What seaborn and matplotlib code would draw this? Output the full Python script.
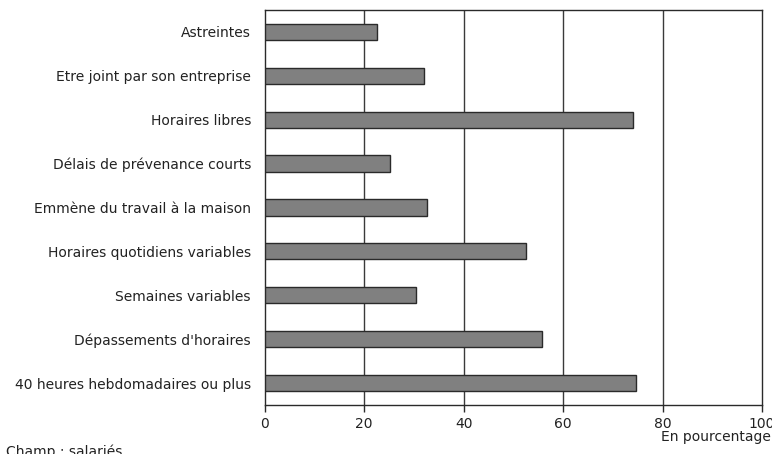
import matplotlib
matplotlib.use("Agg")
import matplotlib.pyplot as plt
import seaborn as sns
import numpy as np
import pandas as pd

categories = [
    "Astreintes",
    "Etre joint par son entreprise",
    "Horaires libres",
    "Délais de prévenance courts",
    "Emmène du travail à la maison",
    "Horaires quotidiens variables",
    "Semaines variables",
    "Dépassements d'horaires",
    "40 heures hebdomadaires ou plus",
]
values = [22.5, 32.1, 74.0, 25.2, 32.6, 52.5, 30.5, 55.7, 74.6]
x_ticks = [0, 20, 40, 60, 80, 100]

sns.set_theme(style="white")
plt.rcParams["font.family"] = ["DejaVu Sans"]

df = pd.DataFrame({"categorie": categories, "valeur": values})

fig = plt.figure(figsize=(7.72, 4.54), dpi=100)
ax = fig.add_axes([0.343, 0.108, 0.644, 0.870])

sns.barplot(data=df, x="valeur", y="categorie", orient="h", color="#808080",
            edgecolor="#2a2a2a", linewidth=1.0, width=0.37, saturation=1,
            ax=ax, zorder=3)

ax.set_xlim(0, 100)
ax.set_ylim(len(categories) - 0.5, -0.5)
ax.set_xticks(x_ticks)
ax.set_xticklabels([str(t) for t in x_ticks], fontsize=10, color="#222222")
ax.set_xlabel("")
ax.set_ylabel("")

# Vertical grid lines at each x tick
for t in x_ticks[1:-1]:
    ax.axvline(t, color="#3a3a3a", linewidth=1.0, zorder=1)

# Category labels centred, boundary ticks between categories
ax.set_yticks(np.arange(len(categories)))
ax.set_yticklabels(categories, fontsize=10, color="#222222")
ax.tick_params(axis="y", which="major", length=0, pad=10)
ax.set_yticks(np.arange(-0.5, len(categories)), minor=True)
ax.tick_params(axis="y", which="minor", length=5, width=1.0, color="#2a2a2a", direction="out")
ax.tick_params(axis="x", which="major", length=5, width=1.0, color="#2a2a2a",
               direction="out", bottom=True, pad=4)

for side in ["left", "right", "top", "bottom"]:
    ax.spines[side].set_visible(True)
    ax.spines[side].set_color("#2a2a2a")
    ax.spines[side].set_linewidth(1.0)

fig.text(0.999, 0.037, "En pourcentage", ha="right", va="center", fontsize=10, color="#222222")
fig.text(0.008, 0.004, "Champ : salariés", ha="left", va="center", fontsize=10, color="#222222")

fig.savefig("out.png", dpi=100)
